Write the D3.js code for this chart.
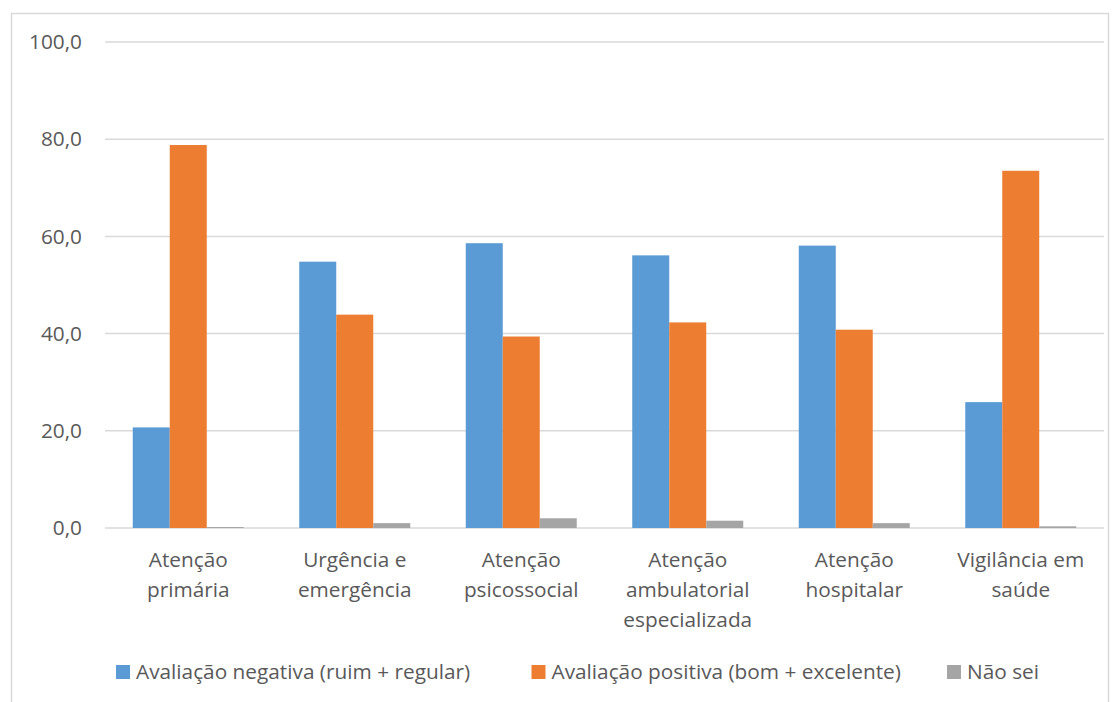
<!DOCTYPE html>
<html>
<head>
<meta charset="utf-8">
<script src="https://cdn.jsdelivr.net/npm/d3@7"></script>
<style>
  html, body { margin: 0; padding: 0; background: #fff; }
  svg text { font-family: "Open Sans", Lato, sans-serif; fill: #595959; }
</style>
</head>
<body>
<svg id="chart" width="1120" height="702"></svg>
<script>
// categories (multi-line labels)
const categories = [
  ["Atenção", "primária"],
  ["Urgência e", "emergência"],
  ["Atenção", "psicossocial"],
  ["Atenção", "ambulatorial", "especializada"],
  ["Atenção", "hospitalar"],
  ["Vigilância em", "saúde"]
];
const seriesNames = [
  "Avaliação negativa (ruim + regular)",
  "Avaliação positiva (bom + excelente)",
  "Não sei"
];
const negativa = [20.7, 54.8, 58.6, 56.1, 58.1, 25.9];
const positiva = [78.8, 43.9, 39.4, 42.3, 40.8, 73.5];
const naoSei = [0.2, 1.0, 2.0, 1.5, 1.0, 0.35];
const yTicks = [0, 20, 40, 60, 80, 100];
const colors = ["#5b9bd5", "#ed7d31", "#a5a5a5"];

const series = [negativa, positiva, naoSei];
const fontSize = 20.8;

const svg = d3.select("#chart");
const margin = { left: 105, right: 16, top: 42, bottom: 174 };
const W = 1120, H = 702;

// outer chart border
svg.append("rect")
  .attr("x", 11.5).attr("y", 13.5)
  .attr("width", 1097).attr("height", 720)
  .attr("fill", "none").attr("stroke", "#d9d9d9").attr("stroke-width", 1.5);

// 6 category bands, 3 bars each, gap width 150%
const x = d3.scaleBand()
  .domain(d3.range(categories.length))
  .range([margin.left, W - margin.right]);
const barW = x.bandwidth() / 4.5;

const y = d3.scaleLinear().domain([0, 100]).range([H - margin.bottom, margin.top]);

// gridlines
svg.append("g").selectAll("line")
  .data(yTicks)
  .join("line")
  .attr("x1", margin.left).attr("x2", W - margin.right)
  .attr("y1", d => y(d)).attr("y2", d => y(d))
  .attr("stroke", "#d9d9d9").attr("stroke-width", 1.5);

// y axis labels
const yAxis = d3.axisLeft(y).tickValues(yTicks).tickSize(0).tickPadding(0)
  .tickFormat(d => d3.format(".1f")(d).replace(".", ","));
const yg = svg.append("g").attr("transform", `translate(${82},0)`).call(yAxis);
yg.select(".domain").remove();
yg.selectAll("text").attr("font-size", fontSize)
  .style("font-family", "'Open Sans', sans-serif").attr("fill", "#595959");

// bars
const groupCenter = i => x(i) + x.bandwidth() / 2;
series.forEach((vals, s) => {
  svg.append("g").selectAll("rect")
    .data(vals)
    .join("rect")
    .attr("x", (d, i) => groupCenter(i) - 1.5 * barW + s * barW)
    .attr("y", d => y(d))
    .attr("width", barW)
    .attr("height", d => y(0) - y(d))
    .attr("fill", colors[s]);
});

// category labels
const catG = svg.append("g");
categories.forEach((lines, i) => {
  const t = catG.append("text")
    .attr("text-anchor", "middle")
    .attr("font-size", fontSize);
  lines.forEach((ln, k) => {
    t.append("tspan")
      .attr("x", groupCenter(i))
      .attr("y", 567 + k * 30)
      .text(ln);
  });
});

// legend
const legendX = d3.scalePoint().domain(d3.range(3)).range([116, 947]);
const lg = svg.append("g").selectAll("g")
  .data(seriesNames)
  .join("g")
  .attr("transform", (d, i) => `translate(${legendX(i)},665)`);
lg.append("rect").attr("width", 14).attr("height", 14).attr("fill", (d, i) => colors[i]);
lg.append("text").attr("x", 20).attr("y", 13.5).attr("font-size", fontSize).text(d => d);
</script>
</body>
</html>
